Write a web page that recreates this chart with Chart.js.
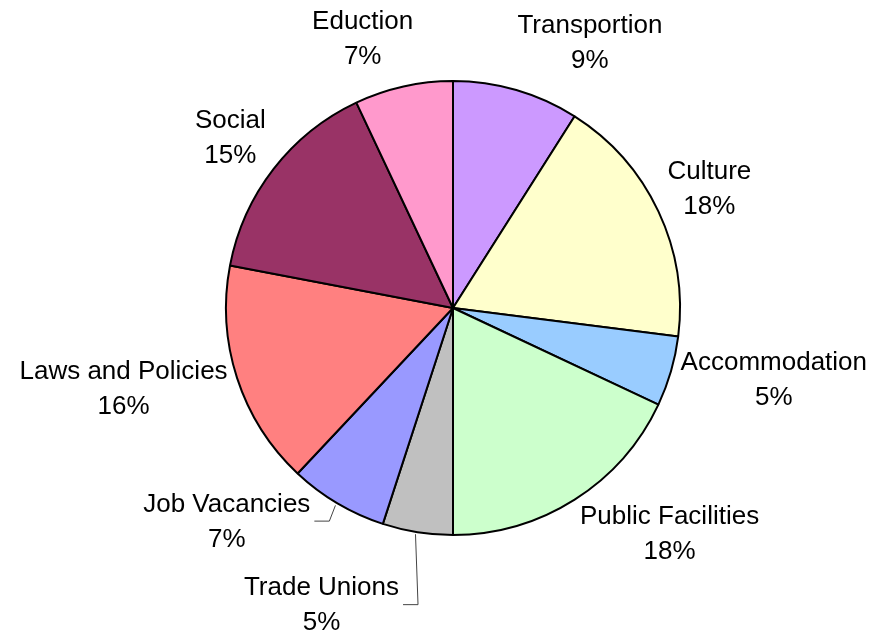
<!DOCTYPE html>
<html>
<head>
<meta charset="utf-8">
<script src="https://cdn.jsdelivr.net/npm/chart.js@4.4.1/dist/chart.umd.min.js"></script>
<style>
  html, body { margin: 0; padding: 0; background: #fff; }
  #wrap { width: 875px; height: 634px; }
</style>
</head>
<body>
<div id="wrap"><canvas id="pieChart" width="875" height="634"></canvas></div>
<script>
const labels = ['Transportion', 'Culture', 'Accommodation', 'Public Facilities', 'Trade Unions',
                'Job Vacancies', 'Laws and Policies', 'Social', 'Eduction'];
const data = [9, 18, 5, 18, 5, 7, 16, 15, 7];
const colors = ['#CC99FF', '#FFFFCC', '#99CCFF', '#CCFFCC', '#C0C0C0',
                '#9999FF', '#FF8080', '#993366', '#FF99CC'];

// labels pulled away from the pie get a leader line back to their slice
const moved = {
  'Trade Unions': { dx: -52, dy: 32 },
  'Job Vacancies': { dx: -22, dy: -17 }
};

const outsideLabels = {
  id: 'outsideLabels',
  afterDatasetsDraw(chart) {
    const ctx = chart.ctx;
    const arcs = chart.getDatasetMeta(0).data;
    const total = data.reduce((a, b) => a + b, 0);
    const lh = 35;
    const gap = 10;
    ctx.save();
    ctx.font = '26px "Liberation Sans", Arial, sans-serif';
    ctx.fillStyle = '#000';
    ctx.textAlign = 'center';
    ctx.textBaseline = 'alphabetic';
    arcs.forEach((arc, i) => {
      const mid = (arc.startAngle + arc.endAngle) / 2;
      const dx = Math.cos(mid), dy = Math.sin(mid);
      const r = arc.outerRadius;
      const lines = [labels[i], Math.round(data[i] / total * 100) + '%'];
      const w = Math.max(...lines.map(t => ctx.measureText(t).width));
      const h = 2 * lh;
      const ax = arc.x + (r + gap) * dx;
      const ay = arc.y + (r + gap) * dy;
      let cx = ax + Math.max(-1, Math.min(1, dx * 3.5)) * w / 2;
      let cy = ay + dy * h / 2;
      const shift = moved[labels[i]];
      if (shift) {
        cx += shift.dx;
        cy += shift.dy;
        // leader: slice edge -> elbow -> label side
        const px = arc.x + r * dx, py = arc.y + r * dy;
        const endX = cx + w / 2 + 4;
        const lineY = cy - 4;
        ctx.save();
        ctx.strokeStyle = '#444';
        ctx.lineWidth = 1;
        ctx.beginPath();
        ctx.moveTo(px - 2, py + 2);
        ctx.lineTo(endX + 15, lineY);
        ctx.lineTo(endX, lineY);
        ctx.stroke();
        ctx.restore();
      }
      ctx.fillText(lines[0], cx, cy - lh / 2 + 4);
      ctx.fillText(lines[1], cx, cy + lh / 2 + 4);
    });
    ctx.restore();
  }
};

new Chart(document.getElementById('pieChart'), {
  type: 'pie',
  data: {
    labels: labels,
    datasets: [{
      data: data,
      backgroundColor: colors,
      borderColor: '#000',
      borderWidth: 2
    }]
  },
  options: {
    responsive: false,
    animation: false,
    layout: { padding: { left: 225, right: 194, top: 80, bottom: 98 } },
    plugins: {
      legend: { display: false },
      tooltip: { enabled: false }
    }
  },
  plugins: [outsideLabels]
});
</script>
</body>
</html>
